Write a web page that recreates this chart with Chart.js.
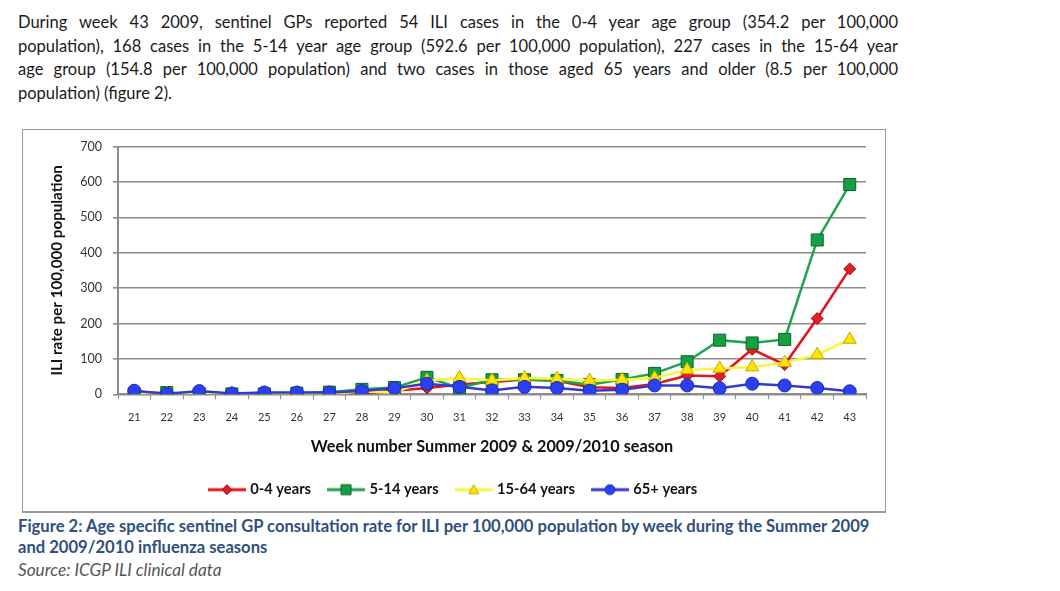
<!DOCTYPE html>
<html>
<head>
<meta charset="utf-8">
<script src="https://cdn.jsdelivr.net/npm/chart.js@4/dist/chart.umd.min.js"></script>
<style>
  body { margin: 0; background: #fff; width: 1060px; height: 591px; position: relative; overflow: hidden; font-family: Lato, "Noto Sans", sans-serif; }
  .para { position: absolute; left: 18px; top: 11px; width: 880px; font-size: 16.5px; line-height: 23.7px; color: #1a1a1a; }
  .para div { white-space: nowrap; text-align: justify; text-align-last: justify; }
  .para div.last { text-align-last: left; }
  #frame { position: absolute; left: 22px; top: 129px; width: 862px; height: 381px; border: 1px solid #9a9a9a; border-bottom-width: 2px; overflow: hidden; }
  #chart1 { position: absolute; left: 0; top: -2px; }
  .cap { position: absolute; left: 18px; top: 516px; font-size: 16.6px; line-height: 21px; font-weight: bold; color: #2f4f7d; white-space: nowrap; }
  .src { position: absolute; left: 18px; top: 559px; font-size: 17.2px; font-style: italic; color: #555; }
</style>
</head>
<body>
<div class="para">
  <div>During week 43 2009, sentinel GPs reported 54 ILI cases in the 0-4 year age group (354.2 per 100,000</div>
  <div>population), 168 cases in the 5-14 year age group (592.6 per 100,000 population), 227 cases in the 15-64 year</div>
  <div>age group (154.8 per 100,000 population) and two cases in those aged 65 years and older (8.5 per 100,000</div>
  <div class="last">population) (figure 2).</div>
</div>
<div id="frame"><canvas id="chart1" width="862" height="383"></canvas></div>
<div class="cap">Figure 2: Age specific sentinel GP consultation rate for ILI per 100,000 population by week during the Summer 2009<br>and 2009/2010 influenza seasons</div>
<div class="src">Source: ICGP ILI clinical data</div>
<script>
var weeks = ["21","22","23","24","25","26","27","28","29","30","31","32","33","34","35","36","37","38","39","40","41","42","43"];
var age0to4 = [8, 2, 5, 2, 4, 3, 5, 2, 10, 18, 28, 35, 42, 38, 20, 18, 29, 53, 51, 127, 84, 214, 354.2];
var age5to14 = [0, 5, 1, 1, 1, 3, 6, 14, 19, 48, 18, 41, 41, 39, 27, 42, 59, 92, 153, 145, 155, 436, 592.6];
var age15to64 = [3, 2, 3, 3, 3, 0, 1, 8, 5, 39, 46, 39, 46, 44, 39, 41, 46, 69, 73, 77, 89, 112, 154.8];
var age65plus = [10, 1, 9, 2, 5, 5, 5, 9, 17, 30, 21, 11, 21, 18, 10, 13, 25, 25, 17, 30, 25, 18, 8.5];
var yTicks = [0, 100, 200, 300, 400, 500, 600, 700];

var gridGrey = '#8c8c8c';

// little line+marker pictures for the legend
function legendIcon(lineColor, fill, border, style, r) {
    var c = document.createElement('canvas');
    c.width = 38; c.height = 16;
    var g = c.getContext('2d');
    g.strokeStyle = lineColor; g.lineWidth = 3;
    g.beginPath(); g.moveTo(0, 8); g.lineTo(38, 8); g.stroke();
    g.fillStyle = fill; g.strokeStyle = border; g.lineWidth = 1;
    g.beginPath();
    if (style === 'rectRot') { g.moveTo(19, 8 - r); g.lineTo(19 + r, 8); g.lineTo(19, 8 + r); g.lineTo(19 - r, 8); g.closePath(); }
    else if (style === 'rect') { g.rect(19 - r, 8 - r, 2 * r, 2 * r); }
    else if (style === 'triangle') { g.moveTo(19, 8 - r); g.lineTo(19 + r, 8 + r * 0.8); g.lineTo(19 - r, 8 + r * 0.8); g.closePath(); }
    else { g.arc(19, 8, r, 0, Math.PI * 2); }
    g.fill(); g.stroke();
    return c;
}

var ctx = document.getElementById('chart1').getContext('2d');
var chart = new Chart(ctx, {
    type: 'line',
    data: {
        labels: weeks,
        datasets: [{
            label: '0-4 years',
            data: age0to4,
            borderColor: '#e3141c',
            borderWidth: 2.5,
            pointStyle: 'rectRot',
            pointRadius: 6,
            pointBackgroundColor: '#e41e26',
            pointBorderColor: '#9c0a10',
            pointBorderWidth: 1,
            legendIcon: legendIcon('#e3141c', '#e41e26', '#9c0a10', 'rectRot', 5),
            order: 4
        }, {
            label: '5-14 years',
            data: age5to14,
            borderColor: '#1fa34c',
            borderWidth: 2.5,
            pointStyle: 'rect',
            pointRadius: 8.5,
            pointBackgroundColor: '#16a046',
            pointBorderColor: '#0b6428',
            pointBorderWidth: 1,
            legendIcon: legendIcon('#1fa34c', '#16a046', '#0b6428', 'rect', 5),
            order: 3
        }, {
            label: '15-64 years',
            data: age15to64,
            borderColor: '#f7f73c',
            borderWidth: 2.5,
            pointStyle: 'triangle',
            pointRadius: 7.5,
            pointBackgroundColor: '#ffe600',
            pointBorderColor: '#caa400',
            pointBorderWidth: 1,
            legendIcon: legendIcon('#f7f73c', '#ffe600', '#caa400', 'triangle', 5),
            order: 2
        }, {
            label: '65+ years',
            data: age65plus,
            borderColor: '#3838d0',
            borderWidth: 2.5,
            pointStyle: 'circle',
            pointRadius: 6.5,
            pointBackgroundColor: '#2b40f2',
            pointBorderColor: '#1b2ab4',
            pointBorderWidth: 1,
            legendIcon: legendIcon('#3838d0', '#2b40f2', '#1b2ab4', 'circle', 5),
            order: 1
        }]
    },
    options: {
        responsive: false,
        animation: false,
        layout: { padding: { top: 14, right: 19, bottom: 4, left: 19 } },
        scales: {
            x: {
                offset: true,
                afterFit: function (scale) { scale.height = 69; },
                grid: { display: true, offset: true, drawOnChartArea: false, color: gridGrey, tickLength: 5, lineWidth: 1 },
                border: { color: gridGrey, width: 2 },
                ticks: { color: '#333', font: { family: 'Lato', size: 11 }, padding: 12, maxRotation: 0, autoSkip: false },
                title: {
                    display: true,
                    text: 'Week number Summer 2009 & 2009/2010 season',
                    color: '#111',
                    font: { family: 'Lato', size: 16.2, weight: 'bold' },
                    padding: { top: 0, bottom: 7 }
                }
            },
            y: {
                min: 0,
                max: 700,
                afterFit: function (scale) { scale.width = 76; },
                afterBuildTicks: function (scale) { scale.ticks = yTicks.map(function (v) { return { value: v }; }); },
                grid: { color: gridGrey, lineWidth: 1.6, tickLength: 5 },
                border: { color: gridGrey, width: 2 },
                ticks: { color: '#333', font: { family: 'Lato', size: 12.5 }, padding: 11 },
                title: {
                    display: true,
                    text: 'ILI rate per 100,000 population',
                    color: '#111',
                    font: { family: 'Lato', size: 15.2, weight: 'bold' },
                    padding: { top: 6, bottom: 0 }
                }
            }
        },
        plugins: {
            tooltip: { enabled: false },
            legend: {
                position: 'bottom',
                labels: {
                    usePointStyle: true,
                    pointStyleWidth: 32,
                    padding: 19,
                    color: '#111',
                    font: { family: 'Lato', size: 14.7, weight: 'bold' },
                    sort: function (a, b) { return a.datasetIndex - b.datasetIndex; },
                    generateLabels: function (ch) {
                        var items = Chart.defaults.plugins.legend.labels.generateLabels(ch);
                        items.forEach(function (it) { it.pointStyle = ch.data.datasets[it.datasetIndex].legendIcon; });
                        return items;
                    }
                }
            }
        }
    }
});
</script>
</body>
</html>
